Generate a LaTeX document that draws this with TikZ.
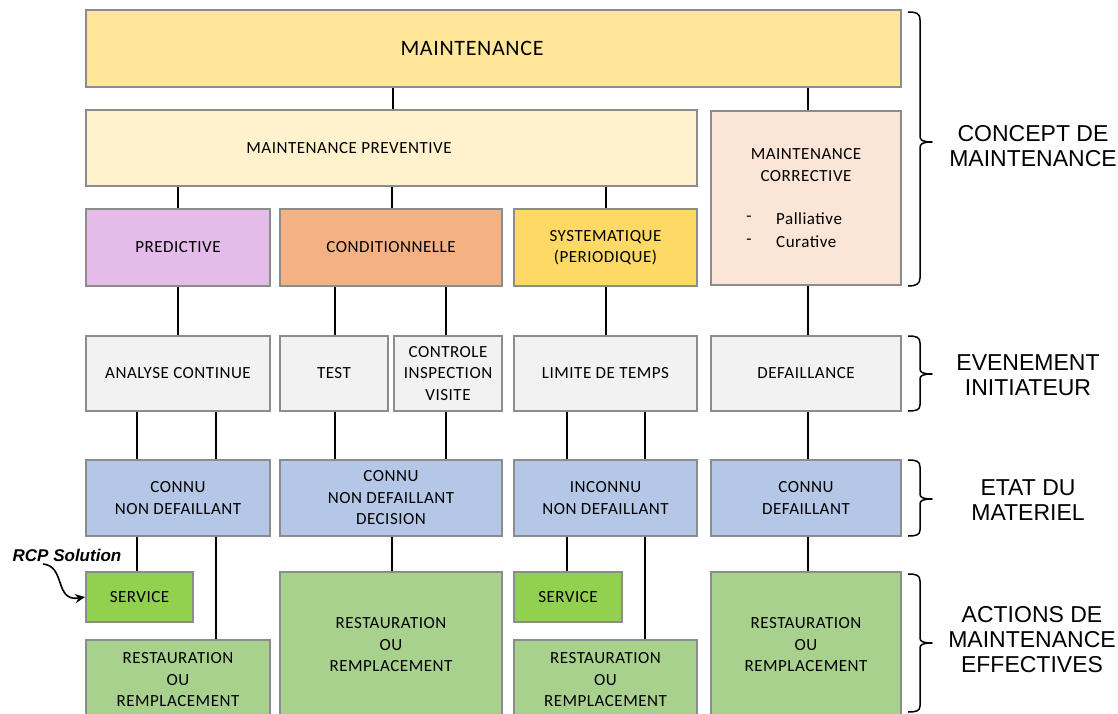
\documentclass[tikz,border=0pt]{standalone}
\usepackage{fontspec}
\usetikzlibrary{arrows.meta}
\newfontfamily\boxfont[LetterSpace=3]{Carlito}
\newfontfamily\lblfont{Liberation Sans}
\definecolor{boxgray}{HTML}{8C8C8C}
\definecolor{cTop}{HTML}{FFE699}
\definecolor{cPrev}{HTML}{FFF2CC}
\definecolor{cCorr}{HTML}{FBE5D6}
\definecolor{cPred}{HTML}{E5BBE9}
\definecolor{cCond}{HTML}{F4B183}
\definecolor{cSyst}{HTML}{FFD966}
\definecolor{cEvt}{HTML}{F2F2F2}
\definecolor{cState}{HTML}{B4C7E7}
\definecolor{cServ}{HTML}{92D050}
\definecolor{cRest}{HTML}{A9D18E}
\tikzset{
  box/.style={draw=boxgray, line width=1.8pt, inner sep=0pt, align=center,
    font=\boxfont\fontsize{17}{21.5}\selectfont},
  txt/.style={inner sep=0pt, align=center, font=\boxfont\fontsize{17}{21.5}\selectfont},
  lbl/.style={inner sep=0pt, align=center, font=\lblfont\fontsize{23}{25}\selectfont},
  conn/.style={line width=1.4pt, black},
  bracel/.style={line width=1.5pt, black, line join=round}
}
\begin{document}
\begin{tikzpicture}[x=1pt,y=-1pt]
\useasboundingbox (0,0) rectangle (1118,714);
% level 1
\node[box, fill=cTop, minimum width=815, minimum height=77] (top) at (493.5,48.5) {};
\node[txt, font=\boxfont\fontsize{22}{26}\selectfont] (topT) at (472,48.5) {MAINTENANCE};
\node[box, fill=cPrev, minimum width=611, minimum height=76] (prev) at (391.5,148) {};
\node[txt] (prevT) at (349,148) {MAINTENANCE PREVENTIVE};
\node[box, fill=cCorr, minimum width=190, minimum height=174] (corr) at (806,198) {};
\node[txt] (corrT) at (806,165) {MAINTENANCE\\CORRECTIVE};
\node[txt] (d1) at (749,219) {-};
\node[txt] (d2) at (749,242) {-};
\node[txt, anchor=west] (pal) at (776,219) {Palliative};
\node[txt, anchor=west] (cur) at (776,242) {Curative};
% level 2
\node[box, fill=cPred, minimum width=184, minimum height=77] (pred) at (178,247.5) {PREDICTIVE};
\node[box, fill=cCond, minimum width=222, minimum height=77] (cond) at (391,247.5) {CONDITIONNELLE};
\node[box, fill=cSyst, minimum width=183, minimum height=77] (syst) at (605.5,247.5) {SYSTEMATIQUE\\(PERIODIQUE)};
% events
\node[box, fill=cEvt, minimum width=184, minimum height=75] (anal) at (178,373.5) {ANALYSE CONTINUE};
\node[box, fill=cEvt, minimum width=108, minimum height=75] (test) at (334,373.5) {TEST};
\node[box, fill=cEvt, minimum width=108, minimum height=75] (ctrl) at (448,373.5) {CONTROLE\\INSPECTION\\VISITE};
\node[box, fill=cEvt, minimum width=183, minimum height=75] (lim) at (605.5,373.5) {LIMITE DE TEMPS};
\node[box, fill=cEvt, minimum width=190, minimum height=75] (def) at (806,373.5) {DEFAILLANCE};
% states
\node[box, fill=cState, minimum width=184, minimum height=76] (st1) at (178,498) {CONNU\\NON DEFAILLANT};
\node[box, fill=cState, minimum width=222, minimum height=76] (st2) at (391,498) {CONNU\\NON DEFAILLANT\\DECISION};
\node[box, fill=cState, minimum width=183, minimum height=76] (st3) at (605.5,498) {INCONNU\\NON DEFAILLANT};
\node[box, fill=cState, minimum width=190, minimum height=76] (st4) at (806,498) {CONNU\\DEFAILLANT};
% actions
\node[box, fill=cServ, minimum width=107, minimum height=50] (serv1) at (139.5,597) {SERVICE};
\node[box, fill=cRest, minimum width=184, minimum height=80] (rest1) at (178,680) {RESTAURATION\\OU\\REMPLACEMENT};
\node[box, fill=cRest, minimum width=222, minimum height=146] (rest2) at (391,645) {RESTAURATION\\OU\\REMPLACEMENT};
\node[box, fill=cServ, minimum width=108, minimum height=50] (serv2) at (568,597) {SERVICE};
\node[box, fill=cRest, minimum width=183, minimum height=80] (rest3) at (605.5,680) {RESTAURATION\\OU\\REMPLACEMENT};
\node[box, fill=cRest, minimum width=190, minimum height=146] (rest4) at (806,645) {RESTAURATION\\OU\\REMPLACEMENT};
% connectors
\draw[conn] (393,0 |- top.south) -- (393,0 |- prev.north);
\draw[conn] (808,0 |- top.south) -- (808,0 |- corr.north);
\draw[conn] (178,0 |- prev.south) -- (178,0 |- pred.north);
\draw[conn] (392,0 |- prev.south) -- (392,0 |- cond.north);
\draw[conn] (606,0 |- prev.south) -- (606,0 |- syst.north);
\draw[conn] (178,0 |- pred.south) -- (178,0 |- anal.north);
\draw[conn] (335,0 |- cond.south) -- (335,0 |- test.north);
\draw[conn] (446,0 |- cond.south) -- (446,0 |- ctrl.north);
\draw[conn] (606,0 |- syst.south) -- (606,0 |- lim.north);
\draw[conn] (808,0 |- corr.south) -- (808,0 |- def.north);
\draw[conn] (137,0 |- anal.south) -- (137,0 |- st1.north);
\draw[conn] (216,0 |- anal.south) -- (216,0 |- st1.north);
\draw[conn] (335,0 |- test.south) -- (335,0 |- st2.north);
\draw[conn] (446,0 |- ctrl.south) -- (446,0 |- st2.north);
\draw[conn] (567,0 |- lim.south) -- (567,0 |- st3.north);
\draw[conn] (645,0 |- lim.south) -- (645,0 |- st3.north);
\draw[conn] (808,0 |- def.south) -- (808,0 |- st4.north);
\draw[conn] (137,0 |- st1.south) -- (137,0 |- serv1.north);
\draw[conn] (216,0 |- st1.south) -- (216,0 |- rest1.north);
\draw[conn] (392,0 |- st2.south) -- (392,0 |- rest2.north);
\draw[conn] (567,0 |- st3.south) -- (567,0 |- serv2.north);
\draw[conn] (645,0 |- st3.south) -- (645,0 |- rest3.north);
\draw[conn] (808,0 |- st4.south) -- (808,0 |- rest4.north);
% braces
\draw[bracel] (908,12) .. controls (916,12) and (920,13) .. (920,20) -- (920,136)
  .. controls (920,140) and (922,142) .. (932,142) .. controls (922,142) and (920,144) .. (920,148)
  -- (920,278) .. controls (920,284) and (916,286) .. (908,286);
\draw[bracel] (908,336) .. controls (916,336) and (920,337) .. (920,343) -- (920,369)
  .. controls (920,372) and (922,374) .. (932,374) .. controls (922,374) and (920,376) .. (920,379)
  -- (920,405) .. controls (920,410) and (916,411) .. (908,411);
\draw[bracel] (908,460) .. controls (916,460) and (920,461) .. (920,467) -- (920,494)
  .. controls (920,497) and (922,499) .. (932,499) .. controls (922,499) and (920,501) .. (920,504)
  -- (920,530) .. controls (920,535) and (916,536) .. (908,536);
\draw[bracel] (908,574) .. controls (916,574) and (920,575) .. (920,581) -- (920,638)
  .. controls (920,641) and (922,643) .. (932,643) .. controls (922,643) and (920,645) .. (920,648)
  -- (920,706) .. controls (920,711) and (916,712) .. (908,712);
% right labels
\node[lbl] (lconcept) at (1033,146) {CONCEPT DE\\MAINTENANCE};
\node[lbl] (levt) at (1028,375) {EVENEMENT\\INITIATEUR};
\node[lbl] (letat) at (1028,500) {ETAT DU\\MATERIEL};
\node[lbl] (lact) at (1032,640) {ACTIONS DE\\MAINTENANCE\\EFFECTIVES};
% RCP Solution
\node[inner sep=0pt, font=\lblfont\bfseries\itshape\fontsize{17}{20}\selectfont] (rcp) at (67,555) {RCP Solution};
\coordinate (rcpA) at (43,564);
\draw[line width=1.6pt, -{Stealth[length=10pt,width=9pt]}] (rcpA) .. controls (66,566) and (54,602) .. (serv1.west);
\end{tikzpicture}
\end{document}
